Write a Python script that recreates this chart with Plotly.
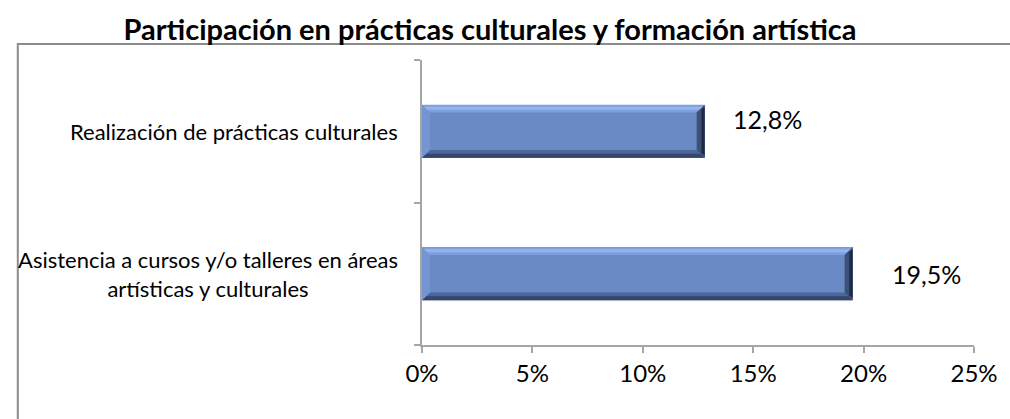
import plotly.graph_objects as go

categories = ["Asistencia a cursos y/o talleres en áreas<br>artísticas y culturales",
              "Realización de prácticas culturales"]
values = [19.5, 12.8]
x_ticks = [0, 5, 10, 15, 20, 25]
title = "Participación en prácticas culturales y formación artística"

FONT = "Lato"
W, H = 1010, 419
L, R, T, B = 422, 24, 60, 74
pos = list(range(len(categories)))
half = 0.186          # half bar thickness (category units)
dy = 0.055            # bevel thickness (category units)
dx = 0.36             # bevel thickness (x units)

fig = go.Figure()
fig.add_trace(go.Bar(
    x=values, y=pos, orientation="h", width=2 * half,
    marker=dict(color="#6a8ac6", line=dict(width=0)),
    hoverinfo="skip", showlegend=False,
))

shapes = []
def poly(pts, color):
    path = "M " + " L ".join(f"{px},{py}" for px, py in pts) + " Z"
    shapes.append(dict(type="path", path=path, xref="x", yref="y",
                       fillcolor=color, line=dict(width=0), layer="above"))

for v, c in zip(values, pos):
    t, b = c + half, c - half
    # top bevel
    poly([(0, t), (v, t), (v - dx, t - dy), (dx, t - dy)], "#7f9fdb")
    poly([(0, t - dy * 0.25), (v, t - dy * 0.25), (v - dx * 0.6, t - dy * 0.65), (dx * 0.6, t - dy * 0.65)], "#93b4ef")
    # bottom bevel
    poly([(0, b), (v, b), (v - dx, b + dy), (dx, b + dy)], "#4d6699")
    poly([(0, b), (v, b), (v - dx * 0.5, b + dy * 0.5), (dx * 0.5, b + dy * 0.5)], "#34466b")
    # left bevel
    poly([(0, b), (dx, b + dy), (dx, t - dy), (0, t)], "#7595d2")
    # right bevel
    poly([(v, b), (v - dx, b + dy), (v - dx, t - dy), (v, t)], "#3d5077")
    poly([(v, b + dy * 0.3), (v - dx * 0.4, b + dy * 0.6), (v - dx * 0.4, t - dy * 0.6), (v, t - dy * 0.3)], "#1f2a40")

plot_w = W - L - R
plot_h = H - T - B
# chart border (outer frame)
shapes.append(dict(type="rect", xref="paper", yref="paper",
                   x0=(9 - L) / plot_w, x1=1.2, y0=-0.6, y1=(plot_h + T - 44) / plot_h,
                   line=dict(color="#8c8c8c", width=2), fillcolor="rgba(0,0,0,0)", layer="below"))

label_style = [(37, 0), (26, 12)]
annotations = []
for v, c, (xs, ys) in zip(values, pos, label_style):
    annotations.append(dict(x=v, y=c, xref="x", yref="y", xanchor="left", yanchor="middle",
                            xshift=xs, yshift=ys, showarrow=False,
                            text=f"{v:.1f}".replace(".", ",") + "%",
                            font=dict(family=FONT, size=25, color="#000")))
for cat, c in zip(categories, pos):
    annotations.append(dict(x=0, y=c, xref="x", yref="y", xanchor="right", yanchor="middle",
                            xshift=-22, showarrow=False, align="center", text=cat,
                            font=dict(family=FONT, size=22, color="#000")))

fig.update_layout(
    width=W, height=H,
    margin=dict(l=L, r=R, t=T, b=B),
    paper_bgcolor="white", plot_bgcolor="white",
    title=dict(text=f"<b>{title}</b>", x=490 / W, xref="container", xanchor="center",
               y=1 - 30 / H, yanchor="middle", yref="container",
               font=dict(family=FONT, size=29, color="#000")),
    xaxis=dict(range=[0, 25], tickvals=x_ticks, ticktext=[f"{t}%" for t in x_ticks],
               showgrid=False, zeroline=False, showline=True, linecolor="#a6a6a6", linewidth=2,
               ticks="outside", ticklen=6, tickcolor="#a6a6a6", tickwidth=2,
               tickfont=dict(family=FONT, size=24, color="#000"), fixedrange=True),
    yaxis=dict(range=[-0.5, 1.5], tickvals=[-0.5, 0.5, 1.5], ticktext=["", "", ""],
               showgrid=False, zeroline=False, showline=True, linecolor="#a6a6a6", linewidth=2,
               ticks="outside", ticklen=6, tickcolor="#a6a6a6", tickwidth=2, fixedrange=True),
    shapes=shapes, annotations=annotations, bargap=0,
)

fig.write_html("out.html", config={"displayModeBar": False},
               post_script="document.body.style.margin='0';document.body.style.overflow='hidden';"
                           "document.documentElement.style.overflow='hidden';")
